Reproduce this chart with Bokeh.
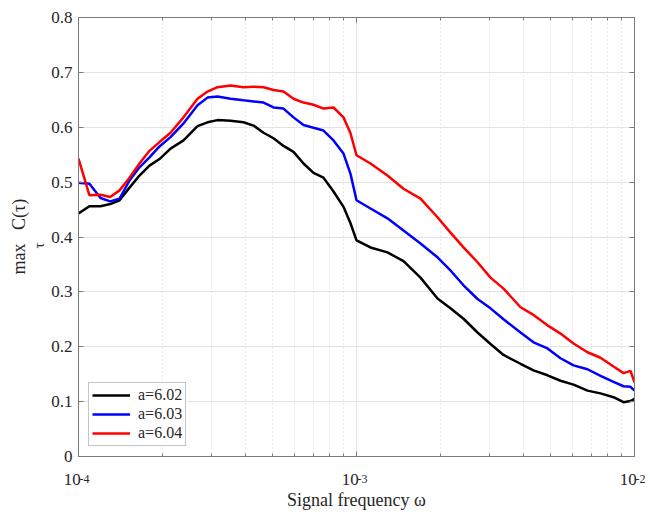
import math
from bokeh.plotting import figure
from bokeh.models import (FixedTicker, CustomJSTickFormatter, Legend, LegendItem,
                          Title, LogAxis, LinearAxis, Range1d)
from bokeh.embed import file_html
from bokeh.resources import INLINE

# ---- data ----
freq = [1.000e-4, 1.095e-4, 1.20e-4, 1.30e-4, 1.405e-4, 1.526e-4, 1.657e-4, 1.80e-4,
        1.956e-4, 2.143e-4, 2.386e-4, 2.680e-4, 2.911e-4, 3.162e-4, 3.523e-4, 3.922e-4,
        4.262e-4, 4.630e-4, 5.029e-4, 5.463e-4, 5.935e-4, 6.448e-4, 7.003e-4, 7.607e-4,
        8.266e-4, 8.979e-4, 9.515e-4, 1.0e-3, 1.123e-3, 1.292e-3, 1.476e-3, 1.699e-3,
        1.956e-3, 2.178e-3, 2.426e-3, 2.725e-3, 3.034e-3, 3.380e-3, 3.890e-3, 4.332e-3,
        4.865e-3, 5.418e-3, 6.035e-3, 6.775e-3, 7.547e-3, 8.405e-3, 9.130e-3, 9.674e-3,
        1.0e-2]

c_a602 = [0.443, 0.456, 0.456, 0.460, 0.467, 0.490, 0.512, 0.530, 0.542, 0.561, 0.576,
          0.602, 0.609, 0.613, 0.612, 0.609, 0.603, 0.590, 0.580, 0.566, 0.555, 0.534,
          0.517, 0.508, 0.483, 0.455, 0.425, 0.394, 0.381, 0.372, 0.356, 0.326, 0.288,
          0.270, 0.251, 0.226, 0.205, 0.185, 0.169, 0.157, 0.148, 0.138, 0.131, 0.120,
          0.115, 0.108, 0.099, 0.101, 0.105]

c_a603 = [0.499, 0.497, 0.471, 0.465, 0.470, 0.503, 0.527, 0.545, 0.565, 0.582, 0.607,
          0.640, 0.654, 0.656, 0.652, 0.649, 0.647, 0.645, 0.636, 0.634, 0.618, 0.604,
          0.599, 0.594, 0.576, 0.552, 0.515, 0.467, 0.452, 0.434, 0.412, 0.388, 0.363,
          0.339, 0.312, 0.287, 0.270, 0.250, 0.226, 0.208, 0.197, 0.179, 0.166, 0.159,
          0.147, 0.136, 0.128, 0.127, 0.120]

c_a604 = [0.543, 0.476, 0.477, 0.473, 0.485, 0.508, 0.534, 0.557, 0.573, 0.590, 0.618,
          0.652, 0.665, 0.673, 0.676, 0.673, 0.674, 0.673, 0.668, 0.665, 0.652, 0.645,
          0.641, 0.634, 0.636, 0.618, 0.589, 0.549, 0.534, 0.512, 0.488, 0.470, 0.436,
          0.408, 0.381, 0.354, 0.326, 0.306, 0.272, 0.258, 0.239, 0.224, 0.206, 0.190,
          0.180, 0.164, 0.152, 0.156, 0.135]

series_labels = ["a=6.02", "a=6.03", "a=6.04"]
series_colors = ["#000000", "#0000ff", "#ff0000"]
x_ticks = [1e-4, 1e-3, 1e-2]
x_minor = [k * 1e-4 for k in range(2, 10)] + [k * 1e-3 for k in range(2, 10)]
y_ticks = [0.0, 0.1, 0.2, 0.3, 0.4, 0.5, 0.6, 0.7, 0.8]

FONT = "Liberation Serif"
TXT = "#262626"
AX = "#7a7a7a"
NB = "\u00a0"

p = figure(width=650, height=516, x_axis_type="log",
           x_range=Range1d(1e-4, 1e-2), y_range=Range1d(0, 0.8),
           output_backend="svg", toolbar_location=None,
           min_border_left=78, min_border_right=16, min_border_top=17,
           min_border_bottom=60)
p.background_fill_color = "white"
p.border_fill_color = "white"
p.outline_line_color = AX
p.outline_line_width = 1

xt = FixedTicker(ticks=x_ticks, minor_ticks=x_minor)
yt = FixedTicker(ticks=y_ticks, minor_ticks=[])

# "10" part of the tick labels (shifted left with trailing no-break spaces)
xfmt_base = CustomJSTickFormatter(code="return '10' + '\u00a0\u00a0\u00a0';")
# exponent part, drawn smaller and raised by a second axis
xfmt_exp = CustomJSTickFormatter(
    code="return '\u00a0\u00a0\u00a0\u00a0' + String(Math.round(Math.log10(tick)));")
yfmt = CustomJSTickFormatter(code="return Math.abs(tick) < 1e-9 ? '0' : tick.toFixed(1);")

xa = p.xaxis[0]
xa.ticker = xt
xa.formatter = xfmt_base
ya = p.yaxis[0]
ya.ticker = yt
ya.formatter = yfmt

for ax in (xa, ya):
    ax.axis_line_color = AX
    ax.major_tick_line_color = AX
    ax.minor_tick_line_color = AX
    ax.major_tick_in = 5
    ax.major_tick_out = 0
    ax.minor_tick_in = 3
    ax.minor_tick_out = 0
    ax.major_label_text_font = FONT
    ax.major_label_text_font_size = "17px"
    ax.major_label_text_color = TXT
ya.minor_tick_in = 0
ya.major_label_standoff = 6
xa.major_label_standoff = 13

xexp = LogAxis(ticker=xt, formatter=xfmt_exp)
xexp.axis_line_color = None
xexp.major_tick_line_color = None
xexp.minor_tick_line_color = None
xexp.major_tick_in = 0
xexp.major_tick_out = 0
xexp.minor_tick_in = 0
xexp.minor_tick_out = 0
xexp.major_label_standoff = -20
xexp.major_label_text_font = FONT
xexp.major_label_text_font_size = "12px"
xexp.major_label_text_color = TXT
xexp.axis_label = "Signal frequency \u03c9"
xexp.axis_label_text_font = FONT
xexp.axis_label_text_font_size = "18px"
xexp.axis_label_text_font_style = "normal"
xexp.axis_label_text_color = TXT
xexp.axis_label_standoff = 1
p.add_layout(xexp, "below")

# box ticks on top and right
top = LogAxis(ticker=xt, formatter=CustomJSTickFormatter(code="return '';"))
right = LinearAxis(ticker=yt, formatter=CustomJSTickFormatter(code="return '';"))
for ax in (top, right):
    ax.axis_line_color = AX
    ax.major_tick_line_color = AX
    ax.minor_tick_line_color = AX
    ax.major_tick_in = 5
    ax.major_tick_out = 0
    ax.minor_tick_in = 3
    ax.minor_tick_out = 0
    ax.major_label_standoff = 0
    ax.major_label_text_font_size = "1px"
right.minor_tick_in = 0
p.add_layout(top, "above")
p.add_layout(right, "right")

# grids
p.xgrid.ticker = xt
p.ygrid.ticker = yt
p.xgrid.grid_line_color = "#e3e3e3"
p.ygrid.grid_line_color = "#e3e3e3"
p.xgrid.grid_line_width = 1
p.ygrid.grid_line_width = 1
p.xgrid.minor_grid_line_color = "#d2d2d2"
p.xgrid.minor_grid_line_dash = "1 3"
p.xgrid.minor_grid_line_width = 1

series = [c_a602, c_a603, c_a604]
items = []
for vals, lab, col in zip(series, series_labels, series_colors):
    r = p.line(freq, vals, line_color=col, line_width=2.5)
    items.append(LegendItem(label=lab, renderers=[r]))

legend = Legend(items=items, location=(10, 10), margin=0, padding=3, spacing=1,
                glyph_width=38, glyph_height=18, label_height=18, label_standoff=8,
                label_text_font=FONT, label_text_font_size="16px",
                label_text_color=TXT, border_line_color="#8a8a8a",
                border_line_width=1, background_fill_color="white",
                background_fill_alpha=1.0)
p.add_layout(legend)

# y-axis label: max_tau C(tau), built from two side titles
t_tau = Title(text="\u03c4", align="left", offset=208, standoff=2,
              vertical_align="middle", text_font=FONT, text_font_size="15px",
              text_font_style="normal", text_color=TXT)
t_main = Title(text="max" + NB * 3 + "C(\u03c4)", align="left", offset=182, standoff=0,
               vertical_align="bottom", text_font=FONT, text_font_size="18px",
               text_font_style="normal", text_color=TXT)
p.add_layout(t_tau, "left")
p.add_layout(t_main, "left")

open("out.html", "w").write(file_html(p, INLINE))
